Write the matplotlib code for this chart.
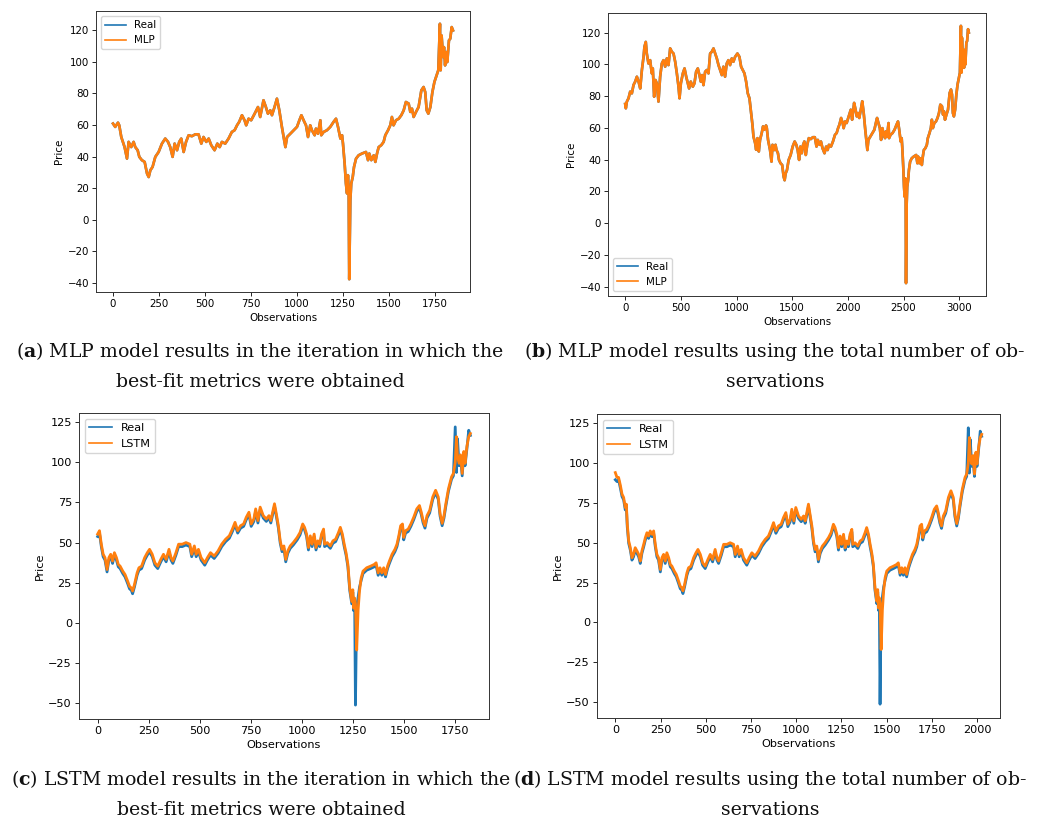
import matplotlib
matplotlib.use("Agg")
import matplotlib.pyplot as plt
import numpy as np

# ---------------- data ----------------
# MLP dataset: observations before the best-fit window (index of panel b)
mlp_early_obs = [
    0, 6, 15, 30, 45, 60, 75, 90, 105, 120,
    135, 150, 165, 173, 185, 194, 209, 224, 239, 248,
    260, 272, 284, 299, 314, 329, 344, 359, 374, 389,
    404, 419, 434, 449, 464, 479, 488, 500, 518, 533,
    548, 559, 574, 589, 607, 622, 637, 652, 667, 679,
    691, 703, 718, 733, 748, 763, 778, 793, 808, 823,
    838, 853, 868, 882, 897, 912, 927, 942, 957, 972,
    987, 1008, 1026, 1041, 1056, 1071, 1086, 1101, 1116, 1128,
    1143, 1152, 1167, 1176, 1188, 1200, 1211, 1226]
mlp_early_price = [
    75, 72.3, 76.5, 78.6, 82.8, 81.7, 87, 89.1, 92.2, 89.1,
    84.8, 96.4, 104.7, 111, 114.1, 106.8, 100.5, 102.6, 94.3, 97.4,
    79.6, 90.1, 88, 76.5, 92.2, 100.5, 102.6, 98.5, 103.7, 99.5,
    110, 107.9, 106.8, 101.6, 94.3, 85.9, 78.6, 88, 94.3, 97.4,
    92.2, 89.1, 84.8, 89.1, 85.9, 88, 95.3, 97.4, 93.2, 89.1,
    93.2, 86.9, 95.3, 96.4, 94.3, 106.8, 107.9, 110, 106.8, 103.7,
    99.5, 96.4, 93.2, 98.5, 92.2, 100.5, 102.6, 99.5, 103.7, 101.6,
    104.7, 106.8, 104.7, 98.5, 96.4, 94.3, 89.1, 81.7, 78.6, 71.3,
    61.9, 54.5, 50.4, 46.2, 53.5, 45.1, 52.4, 56.6]

# MLP dataset: best-fit window (index of panel a)
mlp_window_start = 1238
mlp_window_obs = [
    0, 12, 27, 34, 45, 63, 76, 85, 99, 112,
    121, 134, 143, 157, 172, 185, 194, 203, 215, 230,
    248, 266, 284, 299, 311, 324, 335, 348, 360, 371,
    384, 397, 411, 429, 447, 465, 480, 492, 507, 520,
    534, 552, 567, 580, 592, 610, 628, 646, 661, 674,
    686, 701, 715, 724, 737, 751, 770, 788, 800, 818,
    831, 842, 855, 864, 878, 891, 904, 918, 929, 937,
    946, 964, 982, 1000, 1013, 1024, 1036, 1049, 1060, 1072,
    1081, 1096, 1103, 1114, 1127, 1132, 1145, 1163, 1181, 1199,
    1212, 1223, 1236, 1245, 1250, 1259, 1266, 1272, 1277, 1281,
    1284, 1290, 1295, 1303, 1310, 1321, 1335, 1353, 1375, 1386,
    1393, 1404, 1417, 1426, 1435, 1444, 1458, 1471, 1480, 1495,
    1507, 1516, 1525, 1538, 1553, 1567, 1580, 1592, 1607, 1616,
    1625, 1634, 1647, 1661, 1676, 1688, 1697, 1705, 1714, 1725,
    1736, 1747, 1759, 1768, 1777, 1781, 1786, 1794, 1799, 1805,
    1810, 1817, 1826, 1833, 1841, 1848]
mlp_window_price = [
    60.9, 58.8, 61.5, 59.8, 52.4, 46, 38.7, 49.3, 46, 49.3,
    46, 44, 39.8, 37.7, 36.6, 29.2, 27, 31.3, 33.4, 39.8,
    42.9, 48.2, 51.4, 49.3, 46, 39.8, 48.2, 44, 49.3, 51.4,
    42.9, 49.3, 53.5, 52.9, 54.1, 54.1, 48.2, 52.4, 49.3, 51.4,
    47.2, 44, 48.2, 46, 49.3, 48.2, 51.4, 55.6, 56.7, 59.8,
    62, 66.2, 63, 59.8, 64, 63, 67.2, 71.4, 65.1, 75.7,
    71.4, 67.2, 69.3, 66.2, 71.4, 76.7, 69.3, 58.8, 51.4, 46,
    52.4, 54.5, 56.7, 58.8, 63, 66.2, 63, 59.8, 52.4, 59.8,
    56.7, 53.5, 57.7, 54.5, 63, 53.5, 55.6, 56.7, 58.8, 62,
    64, 58.8, 51.4, 53.5, 48.2, 35.6, 22.9, 16.6, 28.2, 18.7,
    -37.8, 12.3, 22.9, 27, 33.4, 38.7, 40.8, 41.9, 42.9, 37.7,
    41.9, 37.7, 40.8, 36.6, 41.9, 46, 47.2, 49.3, 53.5, 56.7,
    59.8, 65.1, 59.8, 63, 64, 66.2, 69.3, 74.6, 73.6, 68.3,
    70.4, 65.1, 68.3, 71.4, 82, 84.1, 80.9, 69.3, 67.2, 71.4,
    80.9, 87.3, 91.5, 94.7, 124.2, 94.7, 116.8, 103.1, 109.4, 97.8,
    106.3, 99.9, 113.7, 114.7, 122.1, 120]
# the MLP prediction coincides with the real series at this resolution
mlp_early_pred = list(mlp_early_price)
mlp_window_pred = list(mlp_window_price)

# LSTM dataset (index of panel d); panel c starts at lstm_window_start
lstm_window_start = 203
lstm_obs = [
    0, 9, 18, 28, 37, 46, 55, 61, 66, 74,
    83, 92, 101, 110, 120, 129, 138, 147, 157, 166,
    175, 184, 193, 203, 212, 221, 230, 239, 249, 258,
    267, 276, 285, 295, 304, 313, 326, 337, 350, 359,
    368, 374, 383, 396, 405, 418, 433, 446, 457, 470,
    483, 497, 512, 525, 538, 552, 562, 571, 586, 599,
    617, 635, 654, 663, 676, 685, 696, 709, 727, 740,
    755, 773, 792, 810, 829, 847, 862, 875, 888, 902,
    917, 930, 943, 954, 967, 976, 987, 998, 1013, 1028,
    1041, 1050, 1059, 1068, 1077, 1087, 1096, 1105, 1114, 1123,
    1133, 1145, 1160, 1179, 1193, 1206, 1215, 1225, 1234, 1243,
    1252, 1262, 1271, 1280, 1289, 1298, 1308, 1313, 1326, 1341,
    1354, 1367, 1381, 1390, 1400, 1409, 1418, 1427, 1436, 1446,
    1451, 1455, 1460, 1464, 1470, 1477, 1484, 1492, 1501, 1519,
    1538, 1556, 1565, 1575, 1584, 1593, 1602, 1611, 1621, 1630,
    1643, 1657, 1667, 1676, 1685, 1694, 1700, 1709, 1722, 1735,
    1749, 1764, 1777, 1786, 1795, 1804, 1814, 1827, 1842, 1856,
    1869, 1878, 1888, 1897, 1906, 1919, 1934, 1943, 1952, 1958,
    1963, 1971, 1978, 1986, 1994, 2000, 2009, 2018, 2026]
lstm_real = [
    89.5, 88.4, 89.5, 84.2, 79, 76.9, 70.6, 72.7, 60, 49.6,
    45.4, 39.1, 41.2, 45.4, 43.3, 41.2, 37, 43.3, 47.5, 51.7,
    54.8, 52.7, 55.9, 53.8, 55.9, 47.5, 41.2, 39.1, 31.7, 39.1,
    41.2, 37, 42.2, 39.1, 34.9, 33.8, 30.7, 28.6, 24.4, 21.2,
    20.2, 18.1, 22.3, 29.6, 32.8, 33.8, 39.1, 42.2, 44.3, 41.2,
    35.9, 33.8, 38, 41.2, 38, 44.3, 39.1, 37, 42.2, 47.5,
    47.5, 48.5, 47.5, 41.2, 46.4, 41.2, 44.3, 39.1, 35.9, 39.1,
    42.2, 40.1, 43.3, 47.5, 50.6, 52.7, 56.9, 61.1, 55.9, 59,
    60.1, 64.3, 67.4, 60.1, 63.2, 69.5, 62.2, 70.6, 65.3, 63.2,
    65.3, 62.2, 67.4, 72.7, 66.4, 59, 49.6, 44.3, 46.4, 38,
    43.3, 46.4, 48.5, 51.7, 54.8, 60.1, 58, 53.8, 45.4, 52.7,
    47.5, 53.8, 45.4, 49.6, 47.5, 53.8, 56.9, 47.5, 48.5, 46.4,
    49.6, 50.6, 54.8, 58, 53.8, 47.5, 42.2, 34.9, 20.2, 11.8,
    19.1, 7.6, 13.9, -51.3, 9.7, 16, 22.3, 26.5, 30.7, 32.8,
    33.8, 34.9, 35.9, 29.6, 32.8, 29.6, 32.8, 28.6, 33.8, 37,
    41.2, 44.3, 47.5, 52.7, 59, 60.1, 51.7, 55.9, 56.9, 60.1,
    64.3, 69.5, 71.6, 67.4, 62.2, 59, 65.3, 68.5, 76.9, 81.1,
    76.9, 66.4, 60.5, 65.3, 72.7, 82.1, 89.5, 91.6, 122.1, 93.7,
    114.7, 97.9, 103.2, 91.6, 105.3, 97.9, 108.4, 120, 116.8]
lstm_pred = [
    94, 91, 91, 86, 80.5, 78.4, 72.1, 74.2, 62, 51.1,
    46.9, 40.6, 42.7, 46.9, 44.8, 42.7, 38.5, 44.8, 49, 53.2,
    56.3, 54.2, 57.4, 55.3, 57.4, 49, 42.7, 40.6, 33.2, 40.6,
    42.7, 38.5, 43.7, 40.6, 36.4, 35.3, 32.2, 30.1, 25.9, 22.7,
    21.7, 19.8, 23.8, 31.1, 34.3, 35.3, 40.6, 43.7, 45.8, 42.7,
    37.4, 35.3, 39.5, 42.7, 39.5, 45.8, 40.6, 38.5, 43.7, 49,
    49, 50, 49, 42.7, 47.9, 42.7, 45.8, 40.6, 37.4, 40.6,
    43.7, 41.6, 44.8, 49, 52.1, 54.2, 58.4, 62.6, 57.4, 60.5,
    61.6, 65.8, 68.9, 61.6, 64.7, 71, 63.7, 72.1, 66.8, 64.7,
    66.8, 63.7, 68.9, 74.2, 67.9, 60.5, 51.1, 45.8, 47.9, 39.5,
    44.8, 47.9, 50, 53.2, 56.3, 61.6, 59.5, 55.3, 46.9, 54.2,
    49, 55.3, 46.9, 51.1, 49, 55.3, 58.4, 49, 50, 47.9,
    51.1, 52.1, 56.3, 59.5, 55.3, 49, 43.7, 36.4, 21.7, 13.3,
    20.6, 9.1, 15.4, 12, -17, 8, 20, 28, 32.2, 34.3,
    35.3, 36.4, 37.4, 31.1, 34.3, 31.1, 34.3, 30.1, 35.3, 38.5,
    42.7, 45.8, 49, 54.2, 60.5, 61.6, 53.2, 57.4, 58.4, 61.6,
    65.8, 71, 73.1, 68.9, 63.7, 60.5, 66.8, 70, 78.4, 82.6,
    78.4, 67.9, 62, 66.8, 74.2, 83.6, 91, 93.1, 100, 116,
    104, 99.4, 104.7, 93.1, 106.8, 99.4, 109.9, 116, 118]

captions = {
    "a": ("($\\mathbf{a}$) MLP model results in the iteration in which the",
          "best-fit metrics were obtained"),
    "b": ("($\\mathbf{b}$) MLP model results using the total number of ob-",
          "servations"),
    "c": ("($\\mathbf{c}$) LSTM model results in the iteration in which the",
          "best-fit metrics were obtained"),
    "d": ("($\\mathbf{d}$) LSTM model results using the total number of ob-",
          "servations"),
}

# ---------------- figure ----------------
plt.rcParams["mathtext.fontset"] = "custom"
plt.rcParams["mathtext.rm"] = "DejaVu Serif"
plt.rcParams["mathtext.bf"] = "DejaVu Serif:bold"

W, H = 1051, 819
fig = plt.figure(figsize=(W / 100, H / 100), dpi=100)
BLUE, ORANGE = "#1f77b4", "#ff7f0e"


def px_axes(left, top, right, bottom):
    return fig.add_axes([left / W, 1 - bottom / H, (right - left) / W, (bottom - top) / H])


def draw(ax, x, real, pred, model, fs, lw, legend_loc):
    ax.plot(x, real, color=BLUE, lw=lw, label="Real")
    ax.plot(x, pred, color=ORANGE, lw=lw, label=model)
    ax.set_xlabel("Observations", fontsize=fs, labelpad=2.5)
    ax.set_ylabel("Price", fontsize=fs, labelpad=2.5)
    ax.tick_params(labelsize=fs, length=2.6, width=0.6, pad=2.5)
    for s in ax.spines.values():
        s.set_linewidth(0.7)
        s.set_color("#333333")
    leg = ax.legend(loc=legend_loc, fontsize=fs)
    for h in leg.get_lines():
        h.set_linewidth(1.2)


# panel a
a_x = np.array(mlp_window_obs)
ax_a = px_axes(96, 11, 470, 292)
draw(ax_a, a_x, mlp_window_price, mlp_window_pred, "MLP", 7.35, 1.9, "upper left")

# panel b
b_x = np.concatenate([mlp_early_obs, np.array(mlp_window_obs) + mlp_window_start])
b_real = np.concatenate([mlp_early_price, mlp_window_price])
b_pred = np.concatenate([mlp_early_pred, mlp_window_pred])
ax_b = px_axes(608, 13, 986, 296)
draw(ax_b, b_x, b_real, b_pred, "MLP", 7.35, 1.9, "lower left")

# panel c
l_obs = np.array(lstm_obs)
mask = l_obs >= lstm_window_start
ax_c = px_axes(79, 413, 489, 719)
draw(ax_c, l_obs[mask] - lstm_window_start, np.array(lstm_real)[mask],
     np.array(lstm_pred)[mask], "LSTM", 8.1, 2.0, "upper left")

# panel d
ax_d = px_axes(597, 414, 1000, 718)
draw(ax_d, l_obs, lstm_real, lstm_pred, "LSTM", 8.1, 2.0, "upper left")

# captions
cap_pos = {"a": (260, 357, 387), "b": (775, 357, 387),
           "c": (261, 785, 815), "d": (770, 785, 815)}
for k, (cx, y1, y2) in cap_pos.items():
    l1, l2 = captions[k]
    fig.text(cx / W, 1 - y1 / H, l1, ha="center", va="baseline",
             family="DejaVu Serif", fontsize=13.6, color="#111111")
    fig.text(cx / W, 1 - y2 / H, l2, ha="center", va="baseline",
             family="DejaVu Serif", fontsize=13.6, color="#111111")

fig.savefig("out.png", dpi=100)
